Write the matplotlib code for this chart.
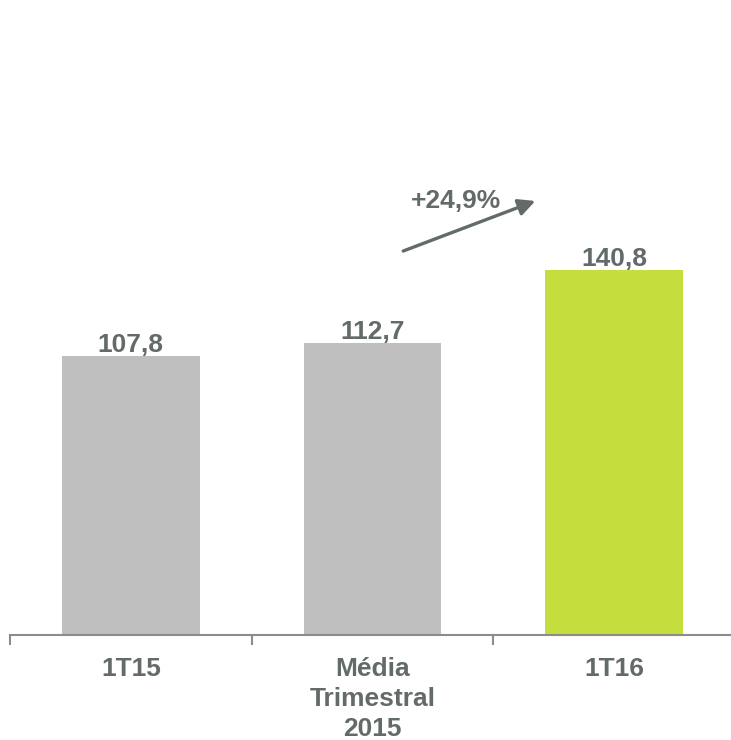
import matplotlib
matplotlib.use("Agg")
import matplotlib.pyplot as plt
from matplotlib.ticker import FixedLocator

plt.rcParams['font.family'] = ['Liberation Sans', 'DejaVu Sans']

categories = ["1T15", "Média\nTrimestral\n2015", "1T16"]
values = [107.8, 112.7, 140.8]
value_labels = ["107,8", "112,7", "140,8"]
growth_label = "+24,9%"

bar_colors = ["#BFBFBF", "#BFBFBF", "#C5DD3D"]
text_color = "#636B6A"
axis_color = "#8C8C8C"

fig = plt.figure(figsize=(7.31, 7.40), dpi=100)
ax = fig.add_axes([10 / 731, 1 - 635 / 740, 725 / 731, 635 / 740])

x = list(range(len(categories)))
bars = ax.bar(x, values, width=0.57, color=bar_colors, zorder=2)

ax.set_xlim(-0.5, len(categories) - 0.5)
ax.set_ylim(0, 245)

for rect, lab in zip(bars, value_labels):
    ax.annotate(lab, (rect.get_x() + rect.get_width() / 2, rect.get_height()),
                xytext=(0, -1), textcoords="offset points",
                ha="center", va="bottom", fontsize=19, fontweight="bold",
                color=text_color)

# growth arrow between the average and the latest quarter
ax.annotate("", xy=(0.7246, 0.6835), xytext=(0.5424, 0.6047),
            xycoords="axes fraction", textcoords="axes fraction",
            arrowprops=dict(arrowstyle="-|>,head_length=1.0,head_width=0.5",
                            color=text_color, lw=2.4, shrinkA=0, shrinkB=0))
ax.text(0.6156, 0.684, growth_label, transform=ax.transAxes,
        ha="center", va="center", fontsize=19, fontweight="bold",
        color=text_color)

for side in ["top", "right", "left"]:
    ax.spines[side].set_visible(False)
ax.spines["bottom"].set_color(axis_color)
ax.spines["bottom"].set_linewidth(1.5)
ax.set_yticks([])

ax.set_xticks(x)
ax.set_xticklabels(categories, fontsize=19, fontweight="bold",
                   color=text_color, linespacing=1.3)
ax.tick_params(axis="x", which="major", length=0, pad=16)
ax.xaxis.set_minor_locator(FixedLocator([i - 0.5 for i in range(len(categories) + 1)]))
ax.tick_params(axis="x", which="minor", length=7, width=1.5, color=axis_color,
               direction="out")

fig.savefig("out.png", dpi=100)
